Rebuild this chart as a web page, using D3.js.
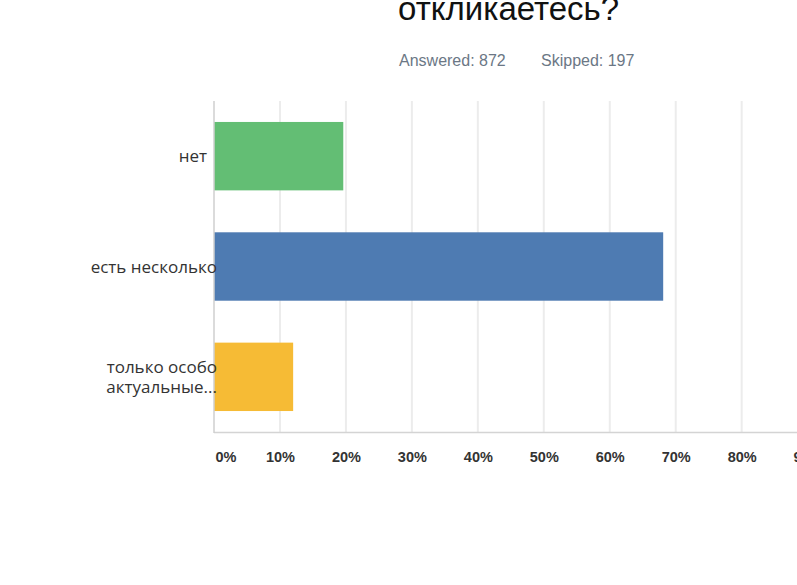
<!DOCTYPE html>
<html><head><meta charset="utf-8">
<script src="https://cdn.jsdelivr.net/npm/d3@7"></script>
<style>html,body{margin:0;padding:0;background:#fff;overflow:hidden}</style>
</head><body>
<svg id="chart" width="797" height="585"></svg>
<script>
const titleText = "откликаетесь?";
const answered = 872;
const skipped = 197;
const categories = ["нет", "есть несколько", ["только особо", "актуальные..."]];
const values = [19.6, 68.1, 12.0];
const colors = ["#63be74", "#4e7bb2", "#f6bb35"];
const tickValues = [0,10,20,30,40,50,60,70,80,90,100];

const svg = d3.select("#chart");
const W = 797, H = 585;
const left = 214, plotTop = 101, plotBottom = 432;
const x = d3.scaleLinear().domain([0,100]).range([left, left + 659.6]);
const y = d3.scaleBand().domain(d3.range(categories.length)).range([plotTop, plotBottom]).paddingInner(0.38).paddingOuter(0.19);

// title
svg.append("text").attr("x",398).attr("y",20).attr("font-family","Liberation Sans, Arial, sans-serif")
  .attr("font-size",33).attr("fill","#111").text(titleText);
svg.append("text").attr("x",399).attr("y",66).attr("font-family","Liberation Sans, Arial, sans-serif")
  .attr("font-size",16).attr("fill","#6b7785").text("Answered: " + answered);
svg.append("text").attr("x",541).attr("y",66).attr("font-family","Liberation Sans, Arial, sans-serif")
  .attr("font-size",16).attr("fill","#6b7785").text("Skipped: " + skipped);

// gridlines
svg.append("g").selectAll("line").data(tickValues.filter(d=>d>0)).join("line")
  .attr("x1",d=>x(d)).attr("x2",d=>x(d)).attr("y1",plotTop).attr("y2",plotBottom)
  .attr("stroke","#ececec").attr("stroke-width",2);

// bottom axis line
svg.append("line").attr("x1",left).attr("x2",W).attr("y1",plotBottom+0.5).attr("y2",plotBottom+0.5)
  .attr("stroke","#d4d4d4").attr("stroke-width",1.5);

// bars
svg.append("g").selectAll("rect").data(values).join("rect")
  .attr("x",x(0)).attr("y",(d,i)=>y(i)).attr("width",d=>x(d)-x(0)).attr("height",y.bandwidth())
  .attr("fill",(d,i)=>colors[i]);

// left axis line
svg.append("line").attr("x1",left).attr("x2",left).attr("y1",plotTop).attr("y2",plotBottom+1)
  .attr("stroke","#cfcfcf").attr("stroke-width",1.5);

// x axis tick labels
const xAxis = d3.axisBottom(x).tickValues(tickValues).tickFormat(d=>d+"%").tickSize(0).tickPadding(0);
const gx = svg.append("g").attr("transform",`translate(0,${plotBottom+30})`).call(xAxis);
gx.select(".domain").remove();
gx.selectAll("text").attr("font-family","Liberation Sans, Arial, sans-serif").attr("font-size",14.5)
  .attr("font-weight","bold").attr("fill","#333").attr("dy","0");
gx.selectAll("text").filter(d=>d===0).attr("text-anchor","start").attr("dx",1);

// category labels
const gl = svg.append("g");
categories.forEach((c,i)=>{
  const lines = Array.isArray(c) ? c : [c];
  const cy = y(i) + y.bandwidth()/2;
  const lh = 20;
  const t = gl.append("text").attr("text-anchor","end").attr("font-family","Open Sans, sans-serif")
    .attr("font-size",17).attr("fill","#333");
  lines.forEach((ln,k)=>{
    t.append("tspan").attr("x", lines.length===1 && ln.length<5 ? 207 : 217)
      .attr("y", cy + 6 + (k - (lines.length-1)/2)*lh).text(ln);
  });
});
</script>
</body></html>
